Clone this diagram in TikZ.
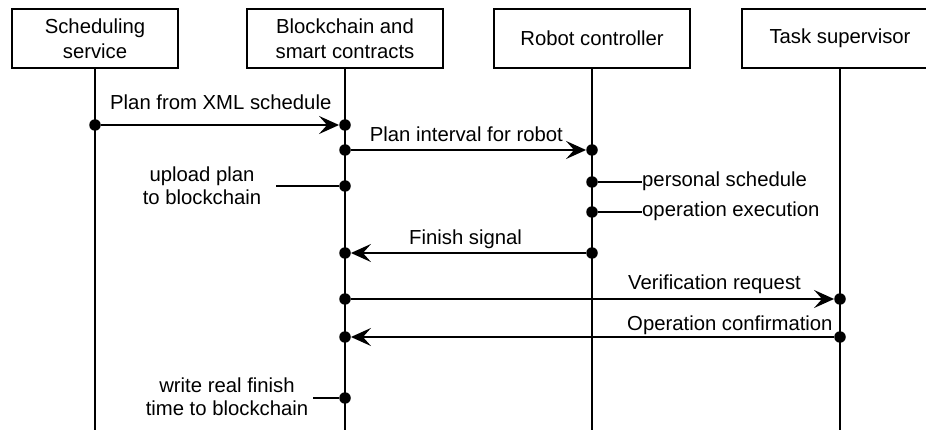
\documentclass[tikz,border=0pt]{standalone}
\usepackage{fontspec}
\setmainfont{Liberation Sans}
\usetikzlibrary{arrows.meta}
\newcommand{\seqfont}{\fontsize{20.3}{23}\selectfont}
\newcommand{\boxfont}{\fontsize{20.3}{25}\selectfont}
\begin{document}
\begin{tikzpicture}[x=1pt,y=-1pt,
  actor/.style={draw, line width=1.9pt, minimum width=196pt, minimum height=59pt,
    inner sep=0pt, align=center, font=\boxfont},
  lifeline/.style={line width=1.9pt},
  ev/.style={circle, fill=black, inner sep=0pt, minimum size=11.5pt},
  msg/.style={line width=1.9pt, -{Stealth[length=20pt,width=18pt,inset=8pt]}},
  notelink/.style={line width=1.9pt},
  lbl/.style={font=\seqfont, inner sep=0pt},
  note/.style={font=\seqfont, inner sep=0pt, align=center}]
\clip (0,0) rectangle (926,430);

% participants
\node[actor, minimum width=166pt] (sched) at (95,38.5) {Scheduling\\service};
\node[actor] (chain) at (345,38.5) {Blockchain and\\smart contracts};
\node[actor] (robot) at (592,38.5) {Robot controller};
\node[actor] (super) at (840,38.5) {Task supervisor};

% lifelines
\coordinate (bottom) at (0,434);
\foreach \a in {sched,chain,robot,super}
  \draw[lifeline] (\a.south) -- (\a.south |- bottom);

% events on the lifelines
\node[ev] (a1) at (95,125) {};
\node[ev] (a2) at (345,125) {};
\node[ev] (b1) at (345,150) {};
\node[ev] (b2) at (592,150) {};
\node[ev] (c1) at (345,186) {};
\node[ev] (d1) at (592,182) {};
\node[ev] (d2) at (592,212) {};
\node[ev] (f1) at (592,253) {};
\node[ev] (f2) at (345,253) {};
\node[ev] (v1) at (345,299) {};
\node[ev] (v2) at (840,299) {};
\node[ev] (o1) at (840,337) {};
\node[ev] (o2) at (345,337) {};
\node[ev] (w1) at (345,398) {};

% messages
\draw[msg] (a1) -- (a2);
\node[lbl, anchor=base west] (la) at (110,110) {Plan from XML schedule};
\draw[msg] (b1) -- (b2);
\node[lbl, anchor=base east] (lb) at (563,142) {Plan interval for robot};
\draw[msg] (f1) -- (f2);
\node[lbl, anchor=base west] (lf) at (409,245) {Finish signal};
\draw[msg] (v1) -- (v2);
\node[lbl, anchor=base west] (lv) at (628,290) {Verification request};
\draw[msg] (o1) -- (o2);
\node[lbl, anchor=base west] (lo) at (627,330) {Operation confirmation};

% local actions
\node[note] (up) at (202,186) {upload plan\\to blockchain};
\coordinate (upend) at (276,186);
\draw[notelink] (upend) -- (c1);

\node[lbl, anchor=base west] (ps) at (642,187) {personal schedule};
\draw[notelink] (d1) -- (d1 -| ps.west);
\node[lbl, anchor=base west] (oe) at (642,217) {operation execution};
\draw[notelink] (d2) -- (d2 -| oe.west);

\node[note] (wr) at (227,397) {write real finish\\time to blockchain};
\coordinate (wrend) at (313,398);
\draw[notelink] (wrend) -- (w1);
\end{tikzpicture}
\end{document}
